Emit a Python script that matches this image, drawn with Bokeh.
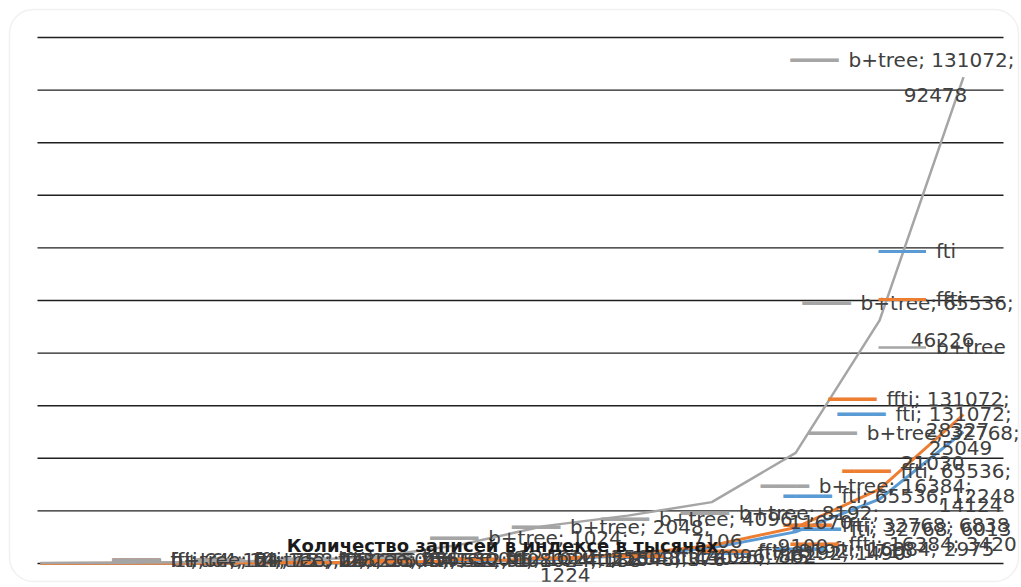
import math
from bokeh.plotting import figure
from bokeh.models import Range1d, ColumnDataSource, Label, BoxAnnotation
from bokeh.embed import file_html
from bokeh.resources import INLINE
from bokeh.core.properties import value

# ---------------- data ----------------
categories = [64, 128, 256, 512, 1024, 2048, 4096, 8192, 16384, 32768, 65536, 131072]
fti = [12, 24, 47, 95, 188, 376, 745, 1490, 2975, 6013, 12248, 25049]
ffti = [14, 27, 54, 108, 215, 430, 862, 1716, 3420, 6838, 14124, 28327]
btree = [75, 150, 300, 610, 1224, 3560, 7106, 9100, 11670, 21030, 46226, 92478]
series_names = ["fti", "ffti", "b+tree"]
y_ticks = [0, 10000, 20000, 30000, 40000, 50000, 60000, 70000, 80000, 90000, 100000]
x_title = "Количество записей в индексе в тысячах"

# ---------------- layout / style ----------------
W, H = 1021, 587
first_px, last_px = 40, 963
y0_px, ytop_px = 563, 37
grid_left_px, grid_right_px = 37, 1003
colors = {"fti": "#5B9BD5", "ffti": "#ED7D31", "b+tree": "#A5A5A5"}
FONT = "DejaVu Sans"
LBL_SIZE = "20px"
TXT_COLOR = "#404040"

ppl = (last_px - first_px) / (math.log2(categories[-1]) - math.log2(categories[0]))
lx_lo = math.log2(categories[0]) - first_px / ppl
lx_hi = math.log2(categories[-1]) + (W - last_px) / ppl
ppy = (y0_px - ytop_px) / (y_ticks[-1] - y_ticks[0])
y_lo = y_ticks[0] - (H - y0_px) / ppy
y_hi = y_ticks[-1] + ytop_px / ppy


def px2x(px):
    return 2 ** (lx_lo + px / ppl)


def px2y(py):
    return y_hi - py / ppy


p = figure(width=W, height=H, x_axis_type="log",
           x_range=Range1d(2 ** lx_lo, 2 ** lx_hi), y_range=Range1d(y_lo, y_hi),
           x_axis_location=None, y_axis_location=None,
           output_backend="svg", toolbar_location=None, min_border=0, title=None)
p.xgrid.visible = False
p.ygrid.visible = False
p.outline_line_color = None
p.background_fill_color = "white"
p.border_fill_color = "white"

# chart area rounded border
p.add_layout(BoxAnnotation(left=px2x(9), right=px2x(1018), top=px2y(9), bottom=px2y(581),
                           fill_color=None, line_color="#cfcfcf", line_width=1.5,
                           border_radius=24))

# horizontal gridlines
p.segment(x0=[px2x(grid_left_px)] * len(y_ticks), x1=[px2x(grid_right_px)] * len(y_ticks),
          y0=y_ticks, y1=y_ticks, line_color="#1f1f1f", line_width=1.4)

data = {"fti": fti, "ffti": ffti, "b+tree": btree}
for name in series_names:
    p.line(categories, data[name], line_color=colors[name], line_width=3 if name != "b+tree" else 2.5,
           line_join="round", legend_label=name)

# data-label placement (pixel offsets from the point): key_dx, dy1, [dx2, dy2]
two_line = {
    ("b+tree", 131072): (-173, -17, -28, 18),
    ("b+tree", 65536): (-77, -17, 63, 20),
    ("b+tree", 32768): (13, -20, 137, 10),
    ("b+tree", 16384): (49, -16, 109, 20),
    ("b+tree", 8192): (53, -3, 175, 30),
    ("b+tree", 4096): (57, -7, 173, 15),
    ("b+tree", 2048): (52, -18, 176, 12),
    ("b+tree", 1024): (54, -19, 189, 18),
    ("fti", 131072): (-126, -18, -3, 16),
    ("ffti", 131072): (-135, -15, -6, 16),
    ("ffti", 65536): (-37, -18, 91, 16),
}
single_line = {
    ("fti", 65536): (-96, -3),
    ("fti", 32768): (-3, -3),
    ("fti", 16384): (64, 1),
    ("ffti", 32768): (-12, -3),
    ("ffti", 16384): (79, -2),
}
small_default = (72, -3)
KEY = "\u2501\u2501\u2501\u2501"
KEY_GAP = 58

for name in series_names:
    key = dict(x=[], y=[], xo=[], yo=[])
    l1 = dict(x=[], y=[], xo=[], yo=[], t=[])
    l2 = dict(x=[], y=[], xo=[], yo=[], t=[])
    for c, v in zip(categories, data[name]):
        k = (name, c)
        if k in two_line:
            kdx, dy1, dx2, dy2 = two_line[k]
            l1["t"].append(f"{name}; {c};")
            l2["x"].append(c); l2["y"].append(v); l2["xo"].append(dx2); l2["yo"].append(dy2)
            l2["t"].append(f"{v}")
        else:
            kdx, dy1 = single_line.get(k, small_default)
            l1["t"].append(f"{name}; {c}; {v}")
        key["x"].append(c); key["y"].append(v); key["xo"].append(kdx); key["yo"].append(dy1)
        l1["x"].append(c); l1["y"].append(v); l1["xo"].append(kdx + KEY_GAP); l1["yo"].append(dy1)
    p.text(x="x", y="y", x_offset="xo", y_offset="yo", text=value(KEY),
           source=ColumnDataSource(key), text_color=colors[name], text_font=value(FONT),
           text_font_size=LBL_SIZE, text_baseline="middle", text_align="left")
    p.text(x="x", y="y", x_offset="xo", y_offset="yo", text="t",
           source=ColumnDataSource(l1), text_color=TXT_COLOR, text_font=value(FONT),
           text_font_size=LBL_SIZE, text_baseline="middle", text_align="left")
    p.text(x="x", y="y", x_offset="xo", y_offset="yo", text="t",
           source=ColumnDataSource(l2), text_color=TXT_COLOR, text_font=value(FONT),
           text_font_size=LBL_SIZE, text_baseline="middle", text_align="center")

# axis title
p.add_layout(Label(x=502, y=H - 545, x_units="screen", y_units="screen", text=x_title,
                   text_font=FONT, text_font_style="bold", text_font_size="18px",
                   text_color="#1a1a1a", text_align="center", text_baseline="middle"))

# legend
lg = p.legend[0]
lg.location = (878, H - 359)
lg.glyph_width = 48
lg.glyph_height = 20
lg.label_height = 20
lg.spacing = 24
lg.padding = 0
lg.margin = 0
lg.label_standoff = 10
lg.label_text_font = FONT
lg.label_text_font_size = LBL_SIZE
lg.label_text_color = TXT_COLOR
lg.border_line_color = None
lg.background_fill_alpha = 0

open("out.html", "w").write(file_html(p, INLINE))
